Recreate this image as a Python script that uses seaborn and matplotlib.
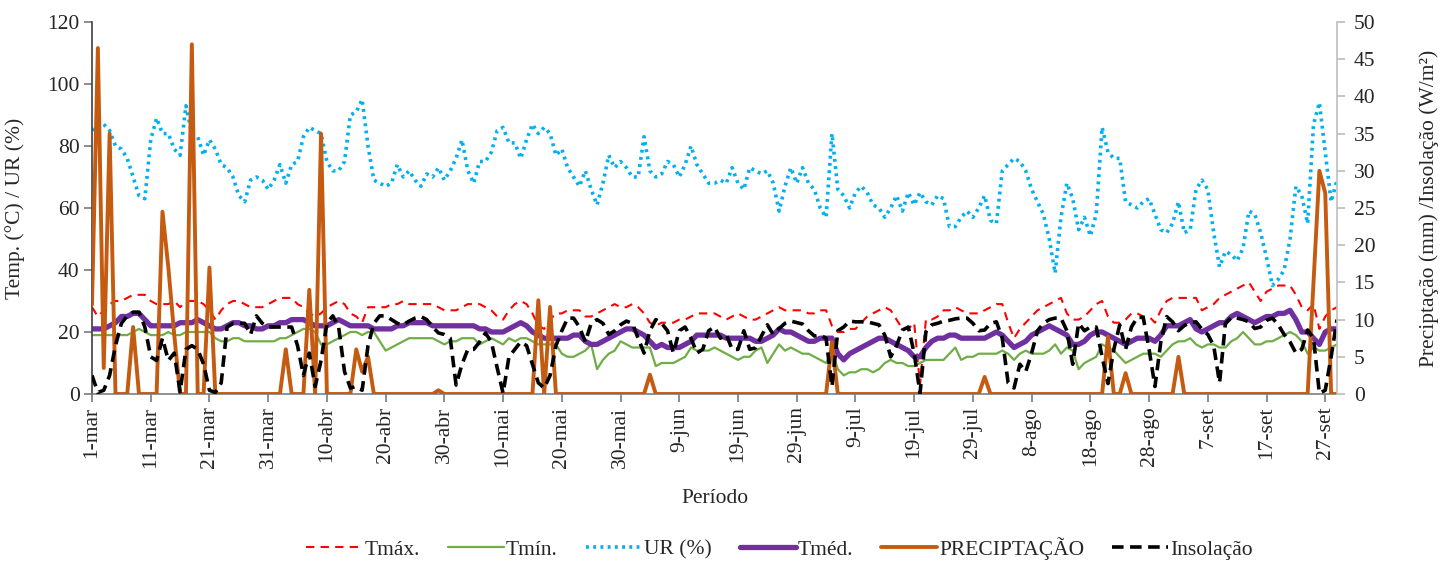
# %%
import numpy as np
import pandas as pd
import matplotlib
matplotlib.use('Agg')
import matplotlib.pyplot as plt
import seaborn as sns

# %% ──────────────────── Dados diários (1-mar a 29-set) ────────────────────
dias = pd.date_range('2019-03-01', periods=213, freq='D')
meses = {3: 'mar', 4: 'abr', 5: 'mai', 6: 'jun', 7: 'jul', 8: 'ago', 9: 'set'}

tmax = [28, 25, 27, 29, 30, 30, 31, 32, 32, 32,
        30, 29, 29, 29, 30, 28, 30, 30, 30, 29,
        27, 24, 27, 29, 30, 30, 29, 28, 28, 28,
        29, 30, 31, 31, 31, 29, 28, 26, 25, 26,
        28, 29, 30, 29, 26, 25, 23, 28, 28, 28,
        28, 29, 29, 30, 29, 29, 29, 29, 29, 28,
        27, 27, 27, 28, 29, 29, 29, 28, 27, 25,
        24, 27, 29, 30, 29, 26, 22, 21, 24, 26,
        26, 27, 27, 27, 25, 25, 26, 27, 28, 29,
        28, 28, 29, 28, 26, 23, 22, 23, 23, 23,
        24, 24, 25, 26, 26, 26, 26, 25, 24, 25,
        26, 25, 24, 24, 25, 26, 27, 28, 27, 27,
        27, 27, 26, 26, 27, 27, 22, 20, 20, 21,
        21, 23, 25, 26, 27, 28, 27, 24, 21, 21,
        23, 3, 24, 24, 25, 27, 27, 28, 27, 26,
        26, 26, 27, 28, 29, 29, 23, 18, 21, 23,
        25, 27, 28, 29, 30, 31, 26, 24, 24, 25,
        27, 29, 30, 25, 23, 23, 24, 26, 26, 25,
        25, 23, 27, 30, 31, 31, 31, 31, 31, 27,
        28, 29, 31, 32, 33, 34, 35, 36, 33, 30,
        33, 34, 35, 35, 35, 32, 28, 27, 29, 21,
        25, 27, 28]

tmin = [19, 19, 19, 19, 19, 19, 19, 20, 21, 20,
        19, 19, 19, 20, 19, 19, 20, 20, 20, 20,
        20, 18, 17, 17, 18, 18, 17, 17, 17, 17,
        17, 17, 18, 18, 19, 20, 21, 21, 20, 16,
        16, 17, 18, 19, 20, 20, 19, 20, 20, 17,
        14, 15, 16, 17, 18, 18, 18, 18, 18, 17,
        16, 17, 17, 18, 18, 18, 16, 17, 18, 17,
        16, 18, 17, 18, 18, 17, 16, 16, 16, 16,
        13, 12, 12, 13, 14, 16, 8, 11, 13, 14,
        17, 16, 15, 15, 15, 15, 9, 10, 10, 10,
        11, 12, 15, 14, 14, 14, 15, 14, 13, 12,
        11, 12, 12, 14, 15, 10, 13, 16, 14, 15,
        14, 13, 13, 12, 11, 10, 14, 8, 6, 7,
        7, 8, 8, 7, 8, 10, 11, 10, 10, 9,
        9, 10, 11, 11, 11, 11, 13, 15, 11, 12,
        12, 13, 13, 13, 13, 14, 13, 11, 13, 14,
        13, 13, 13, 14, 16, 13, 15, 14, 8, 10,
        11, 12, 16, 15, 14, 12, 10, 11, 12, 13,
        13, 13, 12, 14, 16, 17, 17, 18, 16, 15,
        16, 16, 15, 15, 17, 18, 20, 18, 16, 16,
        17, 17, 18, 19, 20, 19, 17, 13, 15, 14,
        14, 15, 16]

ur = [85, 87, 87, 85, 80, 79, 76, 70, 64, 63,
      82, 89, 84, 84, 79, 77, 93, 84, 83, 77,
      82, 79, 74, 73, 70, 64, 62, 69, 70, 69,
      66, 69, 74, 68, 74, 75, 83, 86, 85, 84,
      75, 72, 72, 75, 90, 91, 95, 80, 69, 68,
      67, 68, 74, 70, 72, 69, 67, 71, 70, 73,
      69, 72, 76, 82, 72, 68, 75, 75, 78, 85,
      86, 81, 81, 76, 82, 87, 84, 86, 84, 77,
      79, 73, 70, 67, 72, 66, 61, 68, 77, 73,
      75, 73, 70, 70, 83, 72, 70, 71, 75, 74,
      70, 74, 80, 74, 71, 68, 68, 69, 68, 73,
      68, 66, 73, 72, 71, 72, 68, 59, 67, 73,
      68, 73, 68, 66, 60, 57, 84, 66, 64, 60,
      65, 67, 65, 61, 60, 57, 60, 64, 59, 65,
      61, 65, 62, 61, 64, 63, 54, 54, 57, 59,
      57, 60, 64, 56, 55, 72, 74, 76, 75, 72,
      66, 62, 58, 50, 39, 57, 68, 63, 53, 57,
      51, 58, 86, 78, 76, 76, 62, 61, 60, 62,
      63, 58, 53, 52, 55, 62, 52, 53, 66, 69,
      66, 52, 41, 46, 45, 43, 47, 59, 58, 52,
      44, 35, 37, 40, 50, 67, 64, 55, 87, 94,
      78, 62, 69]

tmed = [21, 21, 21, 22, 23, 25, 25, 26, 26, 24,
        22, 22, 22, 22, 22, 23, 23, 23, 24, 23,
        22, 21, 21, 22, 23, 23, 22, 22, 21, 21,
        22, 22, 23, 23, 24, 24, 24, 23, 22, 22,
        22, 23, 24, 23, 22, 22, 22, 22, 21, 21,
        21, 21, 22, 22, 23, 23, 23, 23, 22, 22,
        22, 22, 22, 22, 22, 22, 21, 21, 20, 20,
        20, 21, 22, 23, 22, 20, 19, 18, 18, 18,
        18, 18, 19, 19, 17, 16, 16, 17, 18, 19,
        20, 21, 21, 20, 19, 17, 15, 16, 15, 15,
        15, 16, 17, 19, 19, 19, 19, 19, 18, 18,
        18, 18, 18, 17, 17, 18, 19, 21, 20, 20,
        19, 18, 17, 17, 18, 18, 18, 13, 11, 13,
        14, 15, 16, 17, 18, 18, 17, 16, 15, 14,
        12, 12, 15, 17, 18, 18, 19, 19, 18, 18,
        18, 18, 18, 19, 20, 19, 17, 15, 16, 17,
        19, 20, 21, 22, 21, 20, 19, 16, 16, 17,
        19, 20, 20, 19, 18, 17, 16, 17, 18, 18,
        18, 17, 19, 22, 22, 22, 23, 24, 21, 20,
        21, 22, 23, 23, 25, 26, 25, 24, 23, 24,
        25, 25, 26, 26, 27, 24, 20, 20, 18, 16,
        20, 21, 21]

precip = [12, 46.5, 3.5, 35, 0, 0, 0, 9, 0, 0,
          0, 0, 24.5, 17, 8, 0, 0, 47, 0, 0,
          17, 0, 0, 0, 0, 0, 0, 0, 0, 0,
          0, 0, 0, 6, 0, 0, 0, 14, 0, 35,
          0, 0, 0, 0, 0, 6, 3, 5, 0, 0,
          0, 0, 0, 0, 0, 0, 0, 0, 0, 0.5,
          0, 0, 0, 0, 0, 0, 0, 0, 0, 0,
          0, 0, 0, 0, 0, 0, 12.6, 0, 11.7, 0,
          0, 0, 0, 0, 0, 0, 0, 0, 0, 0,
          0, 0, 0, 0, 0, 2.6, 0, 0, 0, 0,
          0, 0, 0, 0, 0, 0, 0, 0, 0, 0,
          0, 0, 0, 0, 0, 0, 0, 0, 0, 0,
          0, 0, 0, 0, 0, 0, 7, 0, 0, 0,
          0, 0, 0, 0, 0, 0, 0, 0, 0, 0,
          0, 0, 0, 0, 0, 0, 0, 0, 0, 0,
          0, 0, 2.3, 0, 0, 0, 0, 0, 0, 0,
          0, 0, 0, 0, 0, 0, 0, 0, 0, 0,
          0, 0, 0, 7.7, 0, 0, 2.8, 0, 0, 0,
          0, 0, 0, 0, 0, 5, 0, 0, 0, 0,
          0, 0, 0, 0, 0, 0, 0, 0, 0, 0,
          0, 0, 0, 0, 0, 0, 0, 0, 15, 30,
          27, 0, 0]

insol = [2.5, 0.2, 0.5, 2.5, 6.5, 9.5, 10.5, 11, 11, 9,
         5, 4.5, 7.5, 4.5, 5.5, 0.3, 6, 6.5, 6, 4,
         0.5, 0.2, 1.5, 9, 9.5, 9.5, 9.5, 8, 10.5, 9.5,
         9, 9, 9, 9, 9, 6.5, 2.5, 5.5, 1, 4.5,
         9.5, 10.5, 9, 3, 0.8, 1, 0.5, 6.5, 9.5, 10.5,
         10.5, 10, 9.5, 9.3, 9.8, 10.2, 10.4, 10, 9, 8.2,
         8, 7.5, 1.2, 4, 6, 6, 7, 8.2, 7, 3.5,
         0.1, 5, 6, 7, 6.5, 4, 1.5, 0.8, 2.5, 6.5,
         8.5, 10.2, 10.2, 9, 7, 9.5, 10, 9.5, 8, 8.5,
         9.3, 9.8, 9.5, 7.5, 5.5, 8.5, 10, 9.5, 8.5, 5.5,
         8.5, 9, 7.5, 5.5, 6, 8.5, 9, 7.5, 8, 6,
         6, 8.5, 6, 6.2, 7.8, 9.3, 8, 8.8, 9.5, 9.8,
         9.6, 9.4, 8.5, 7.8, 7.9, 7.5, 1, 8.5, 9, 9.8,
         9.7, 9.7, 9.7, 9.5, 9.3, 7.9, 5, 6.5, 8.6, 9,
         5.5, 0.1, 8.4, 9.3, 9.5, 9.8, 9.9, 10.1, 10.2, 10.2,
         9.5, 8.5, 8.6, 9.5, 9.7, 7.5, 1.5, 0.8, 4, 3,
         5.5, 8.5, 9.5, 10, 10.2, 10.2, 8.5, 4, 9.5, 8.5,
         9, 9, 5, 1.4, 6, 9.3, 6, 9, 10.3, 10.3,
         6, 1, 7, 10.4, 9.7, 8.5, 9.2, 9.6, 9.7, 8.7,
         8, 6.5, 1.5, 9.5, 10.3, 10.2, 10, 9.7, 8.8, 9,
         9.9, 10.2, 9.3, 8, 7, 5.5, 6, 8.6, 7.5, 0.1,
         0.5, 5, 10]

df = pd.DataFrame({'dia': dias, 'Tmax': tmax, 'Tmin': tmin, 'UR': ur,
                   'Tmed': tmed, 'Precip': precip, 'Insol': insol})

# %% ──────────────────── Gráfico ────────────────────
sns.set_theme(style='white')
plt.rcParams['font.family'] = ['Liberation Serif', 'DejaVu Serif']
fs = 15.5

fig = plt.figure(figsize=(14.44, 5.61), dpi=100)
ax1 = fig.add_axes([92/1444, 1 - 394/561, (1337 - 92)/1444, (394 - 22)/561])
ax2 = ax1.twinx()

sns.lineplot(data=df, x='dia', y='Tmax', ax=ax1, color='#FF0000', lw=1.5,
             ls=(0, (4, 3)), label='Tmáx.', legend=False)
sns.lineplot(data=df, x='dia', y='Tmin', ax=ax1, color='#70AD47', lw=1.6,
             label='Tmín.', legend=False)
sns.lineplot(data=df, x='dia', y='UR', ax=ax1, color='#00B0F0', lw=2.6,
             ls=(0, (0.8, 1.2)), label='UR (%)', legend=False)
sns.lineplot(data=df, x='dia', y='Tmed', ax=ax1, color='#7030A0', lw=3.8,
             label='Tméd.', legend=False)
sns.lineplot(data=df, x='dia', y='Precip', ax=ax2, color='#C55A11', lw=2.8,
             label='PRECIPTAÇÃO', legend=False)
sns.lineplot(data=df, x='dia', y='Insol', ax=ax2, color='black', lw=2.6,
             ls=(0, (3.2, 1.8)), label='Insolação', legend=False)

ax1.set_xlim(dias[0], dias[-1])
ax1.set_ylim(0, 120)
ax2.set_ylim(0, 50)
ax1.set_yticks(np.arange(0, 121, 20))
ax2.set_yticks(np.arange(0, 51, 5))

marcas = dias[::10]
ax1.set_xticks(marcas)
ax1.set_xticklabels([f'{d.day}-{meses[d.month]}' for d in marcas], rotation=90)

ax1.tick_params(axis='both', labelsize=fs, direction='out', length=6,
                color='#7f7f7f', left=True, bottom=True, pad=3)
ax2.tick_params(axis='y', labelsize=fs, direction='out', length=6,
                color='#bfbfbf', right=True, pad=6)

ax1.set_xlabel('Período', fontsize=fs)
ax1.set_ylabel('Temp. (°C) / UR (%)', fontsize=fs)
ax2.set_ylabel('Preciptação (mm) /Insolação (W/m²)', fontsize=fs)
ax1.xaxis.set_label_coords(0.5, -0.255)
ax1.yaxis.set_label_coords(-0.054, 0.5)
ax2.yaxis.set_label_coords(1.066, 0.5)

for s in ['top', 'right']:
    ax1.spines[s].set_visible(False)
for s in ['top', 'left', 'bottom']:
    ax2.spines[s].set_visible(False)
ax1.spines['left'].set_color('#404040')
ax1.spines['bottom'].set_color('#7f7f7f')
ax2.spines['right'].set_color('#bfbfbf')
for s in ax1.spines.values():
    s.set_linewidth(1.2)
ax2.spines['right'].set_linewidth(1.2)

h1, l1 = ax1.get_legend_handles_labels()
h2, l2 = ax2.get_legend_handles_labels()
fig.legend(h1 + h2, l1 + l2, loc='center', bbox_to_anchor=(0.54, 0.023),
           ncol=6, frameon=False, fontsize=fs, handlelength=2.6,
           handletextpad=0.1, columnspacing=1.3)

fig.savefig('out.png', dpi=100)
